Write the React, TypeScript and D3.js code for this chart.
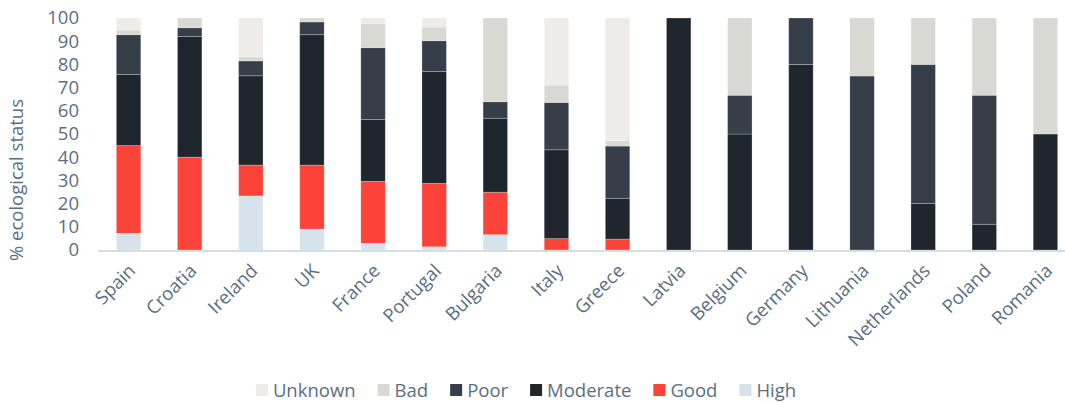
import React from "react";
import * as d3 from "d3";

const countries = [
  "Spain", "Croatia", "Ireland", "UK", "France", "Portugal", "Bulgaria", "Italy",
  "Greece", "Latvia", "Belgium", "Germany", "Lithuania", "Netherlands", "Poland", "Romania",
];

// Share of water bodies (%) in each ecological status class
const high = [7.2, 0, 23.3, 9, 2.9, 1.4, 6.6, 0, 0, 0, 0, 0, 0, 0, 0, 0];
const good = [37.8, 40, 13.3, 27.6, 26.7, 27.3, 18.3, 4.9, 4.7, 0, 0, 0, 0, 0, 0, 0];
const moderate = [30.6, 52, 38.5, 56.2, 26.7, 48.2, 31.9, 38.3, 17.6, 100, 50, 80, 0, 20, 11.1, 50];
const poor = [17.2, 3.8, 6.4, 5.5, 30.9, 13.3, 7.1, 20.4, 22.5, 0, 16.7, 20, 75, 60, 55.6, 0];
const bad = [2, 4.2, 1.8, 1.7, 10.5, 5.9, 36.1, 7.5, 2.3, 0, 33.3, 0, 25, 20, 33.3, 50];
const unknown = [5.2, 0, 16.7, 0, 2.3, 3.9, 0, 28.9, 52.9, 0, 0, 0, 0, 0, 0, 0];

const statusNames = ["High", "Good", "Moderate", "Poor", "Bad", "Unknown"];
const legendOrder = ["Unknown", "Bad", "Poor", "Moderate", "Good", "High"];
const yTicks = [0, 10, 20, 30, 40, 50, 60, 70, 80, 90, 100];

const colors: Record<string, string> = {
  High: "#d6e3ec",
  Good: "#fc433a",
  Moderate: "#20262d",
  Poor: "#353e49",
  Bad: "#d9d9d4",
  Unknown: "#efebe8",
};

const W = 1065;
const H = 403;
const FONT = "Open Sans";
const TEXT = "#5a6f84";

export default function App() {
  const seriesValues = [high, good, moderate, poor, bad, unknown];
  const rows = countries.map((c, i) => {
    const r: Record<string, any> = { country: c };
    statusNames.forEach((s, k) => (r[s] = seriesValues[k][i]));
    return r;
  });
  const stacked = d3.stack<any>().keys(statusNames)(rows);

  const x = d3
    .scaleBand<string>()
    .domain(countries)
    .range([98, 1076])
    .paddingInner(0.6)
    .paddingOuter(0.3);
  const y = d3.scaleLinear().domain([0, 100]).range([250, 18]);

  // legend layout from measured text widths
  const fontSize = 18.5;
  const canvas = typeof document !== "undefined" ? document.createElement("canvas") : null;
  const ctx = canvas ? canvas.getContext("2d") : null;
  if (ctx) ctx.font = `${fontSize}px "${FONT}"`;
  const measure = (t: string) => (ctx ? ctx.measureText(t).width : t.length * 9);
  const sq = 12;
  const gapText = 5;
  const gapItem = 22;
  const widths = legendOrder.map((t) => sq + gapText + measure(t));
  const total = d3.sum(widths) + gapItem * (legendOrder.length - 1);
  let lx = 526 - total / 2;
  const legendItems = legendOrder.map((t, i) => {
    const item = { name: t, x: lx };
    lx += widths[i] + gapItem;
    return item;
  });

  return (
    <svg
      width={W}
      height={H}
      style={{ position: "absolute", left: 0, top: 0, background: "#fff" }}
      fontFamily={FONT}
    >
      {/* y tick labels */}
      {yTicks.map((t) => (
        <text
          key={t}
          x={79}
          y={y(t)}
          dy="0.35em"
          textAnchor="end"
          fontSize={fontSize}
          fill={TEXT}
        >
          {t}
        </text>
      ))}
      <text
        transform={`translate(23,180) rotate(-90)`}
        textAnchor="middle"
        fontSize={fontSize}
        fill={TEXT}
      >
        % ecological status
      </text>

      {/* stacked bars */}
      {stacked.map((layer) => (
        <g key={layer.key} fill={colors[layer.key]}>
          {layer.map((d, i) =>
            d[1] - d[0] > 0 ? (
              <rect
                key={i}
                x={x(countries[i])}
                y={y(d[1])}
                width={x.bandwidth()}
                height={y(d[0]) - y(d[1])}
                stroke="#ffffff"
                strokeOpacity={0.3}
                strokeWidth={0.8}
              />
            ) : null
          )}
        </g>
      ))}

      {/* baseline */}
      <line x1={98} x2={W} y1={y(0) + 1} y2={y(0) + 1} stroke="#d6dee5" strokeWidth={2} />

      {/* category labels */}
      {countries.map((c) => (
        <text
          key={c}
          transform={`translate(${(x(c) as number) + x.bandwidth() / 2 + 8},${272}) rotate(-45)`}
          textAnchor="end"
          fontSize={fontSize}
          fill={TEXT}
        >
          {c}
        </text>
      ))}

      {/* legend */}
      {legendItems.map((it) => (
        <g key={it.name}>
          <rect x={it.x} y={384} width={sq} height={sq} fill={colors[it.name]} />
          <text x={it.x + sq + gapText} y={396.5} fontSize={fontSize} fill={TEXT}>
            {it.name}
          </text>
        </g>
      ))}
    </svg>
  );
}
